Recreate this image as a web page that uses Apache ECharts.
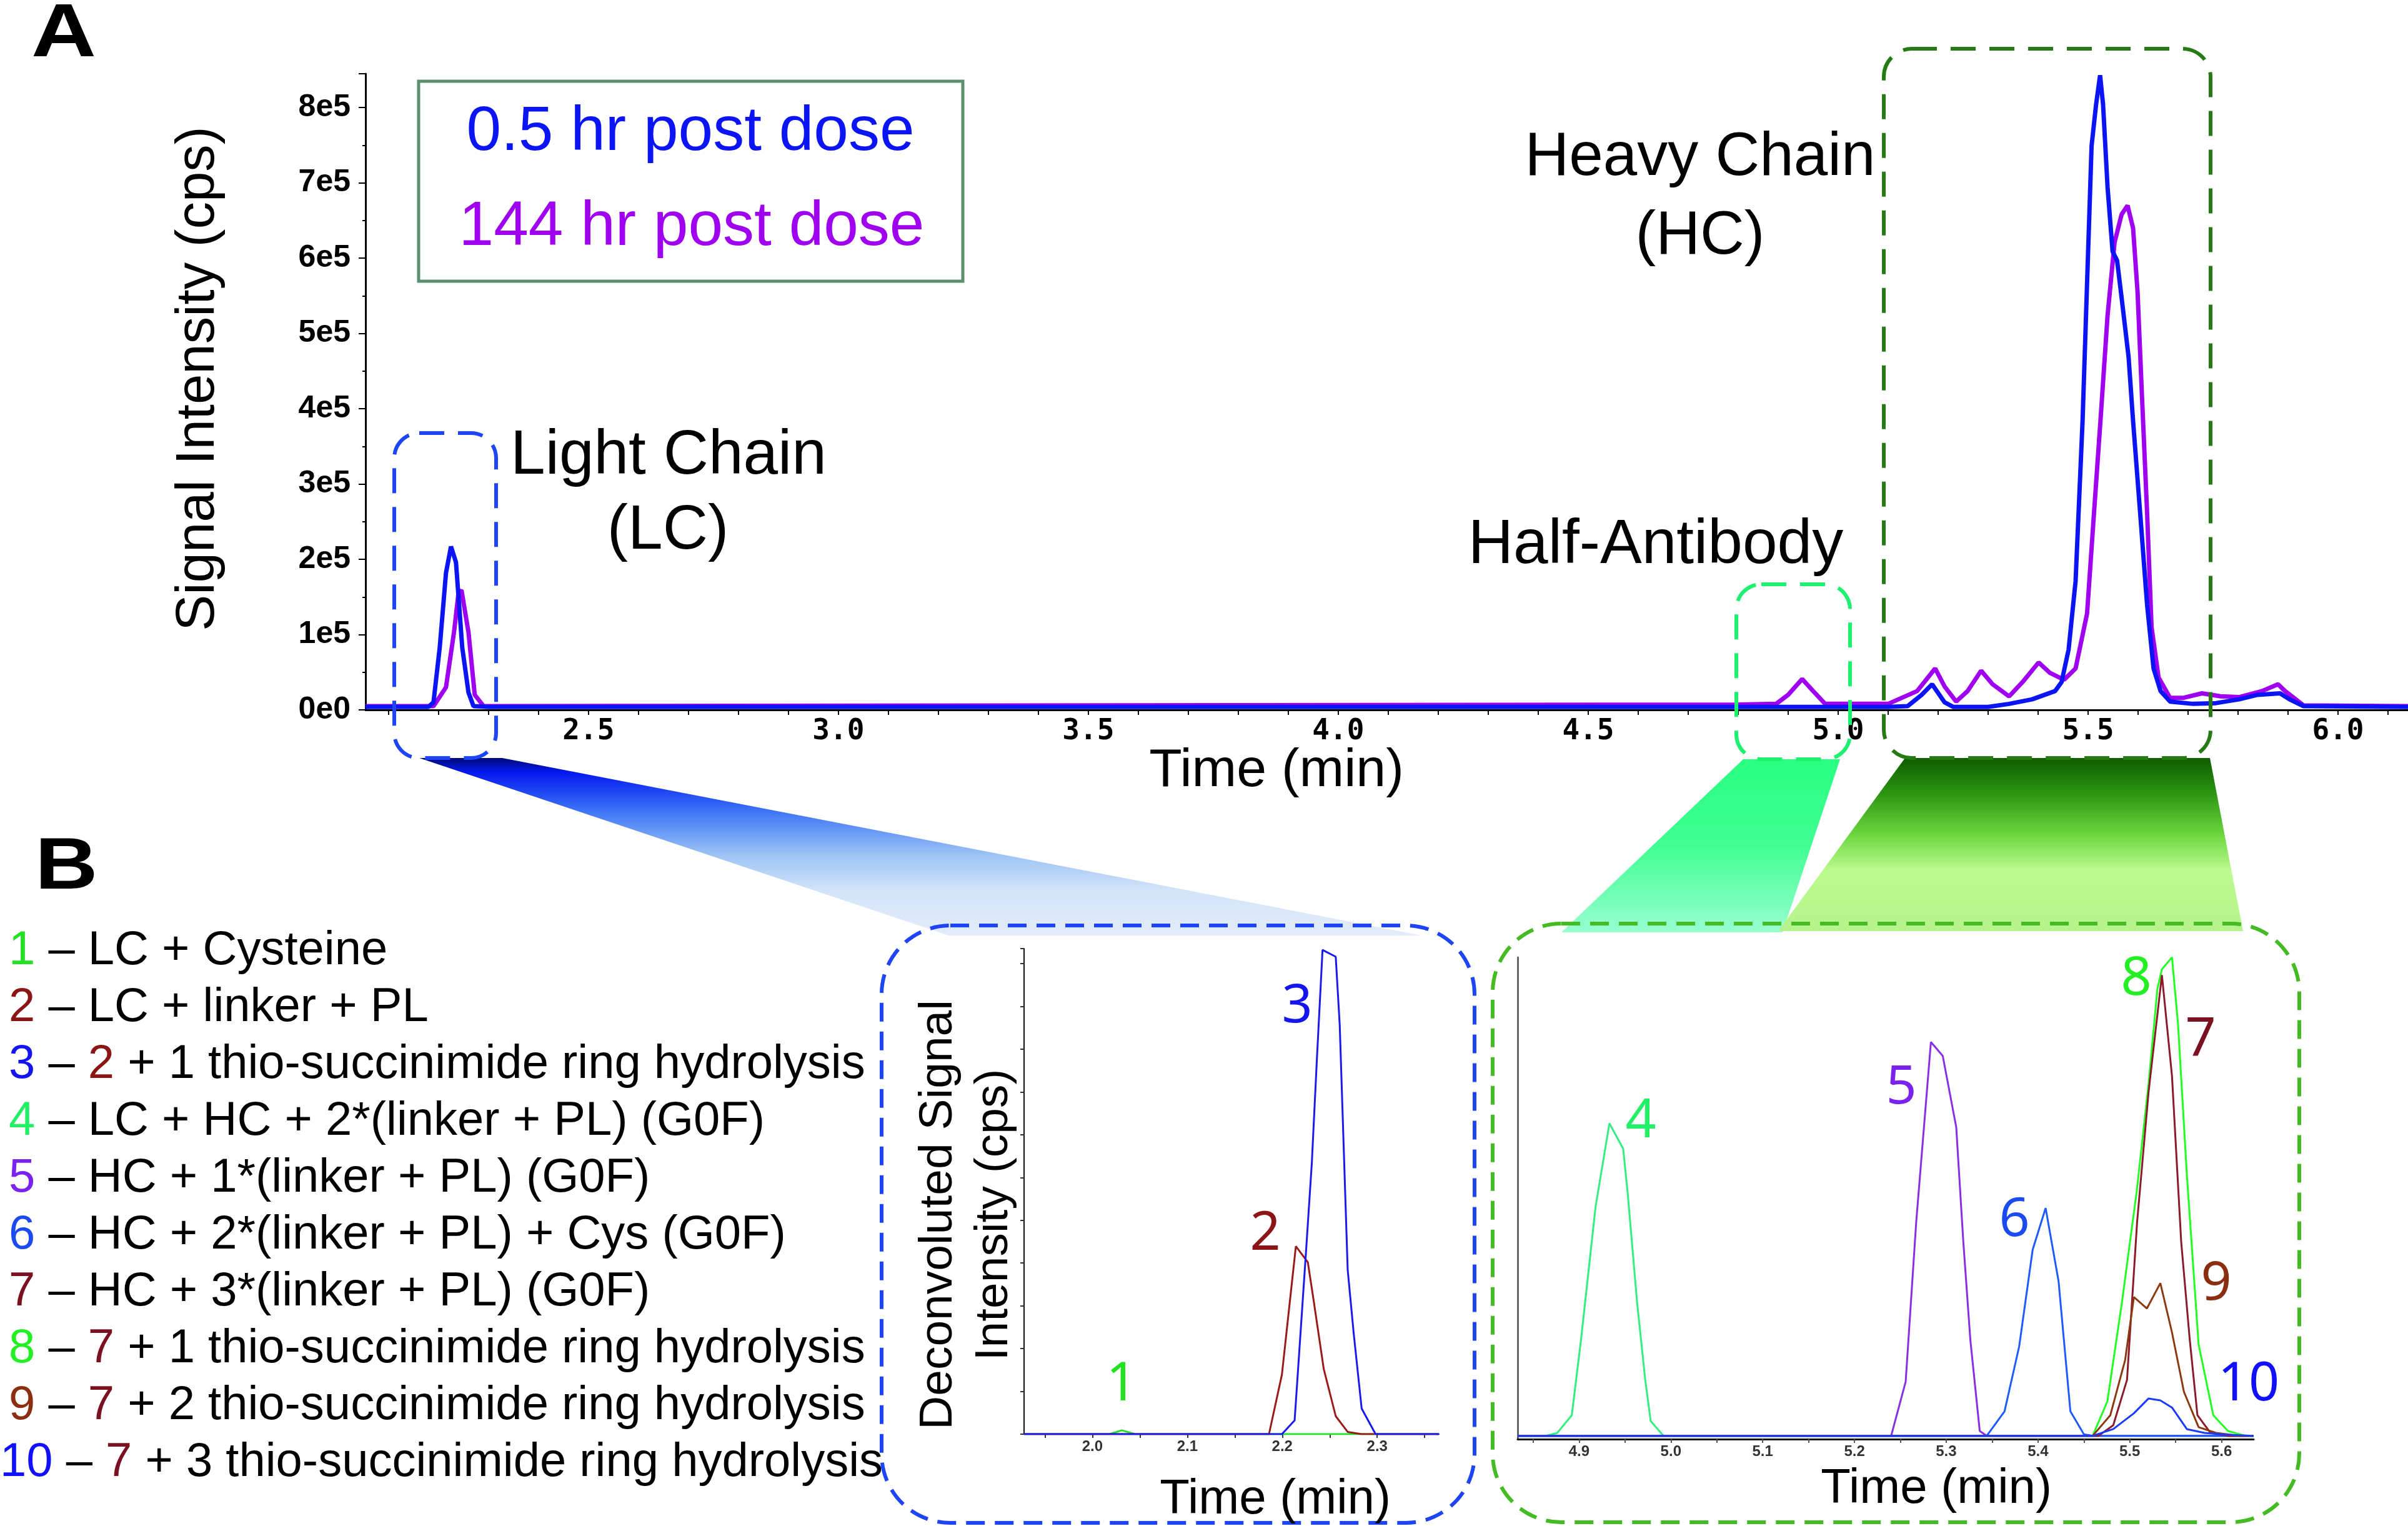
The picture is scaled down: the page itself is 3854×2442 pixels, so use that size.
<!DOCTYPE html>
<html><head><meta charset="utf-8">
<script src="https://cdn.jsdelivr.net/npm/echarts@6/dist/echarts.min.js"></script>
<style>html,body{margin:0;padding:0;background:#fff}#c{width:3854px;height:2442px}</style>
</head><body><div id="c"></div>
<script>
// ---------- Panel A data (time in min, signal in units of 1e5 cps) ----------
const mainTime05 = [2.054,2.18,2.19,2.2025,2.215,2.225,2.235,2.2475,2.26,2.27,2.30,5.10,5.139,5.167,5.188,5.213,5.23,5.30,5.342,5.388,5.434,5.447,5.461,5.475,5.489,5.498,5.507,5.516,5.524,5.530,5.539,5.549,5.558,5.567,5.581,5.590,5.604,5.618,5.631,5.645,5.664,5.710,5.756,5.802,5.839,5.884,5.903,5.931,6.14];
const mainSignal05 = [0.04,0.04,0.1,0.83,1.82,2.17,1.96,0.83,0.23,0.05,0.04,0.04,0.05,0.2,0.34,0.1,0.04,0.04,0.08,0.14,0.25,0.37,0.80,1.71,3.84,5.67,7.49,8.04,8.43,8.04,6.94,6.09,5.97,5.48,4.69,3.84,2.63,1.40,0.55,0.25,0.11,0.08,0.09,0.14,0.20,0.22,0.14,0.05,0.04];
const mainTime144 = [2.054,2.19,2.215,2.231,2.240,2.246,2.26,2.2725,2.29,4.80,4.876,4.90,4.928,4.95,4.974,5.10,5.158,5.194,5.213,5.236,5.259,5.286,5.309,5.342,5.369,5.401,5.424,5.452,5.475,5.498,5.512,5.526,5.539,5.553,5.567,5.579,5.590,5.599,5.608,5.618,5.627,5.641,5.664,5.691,5.728,5.765,5.802,5.848,5.880,5.894,5.931,6.14];
const mainSignal144 = [0.05,0.05,0.3,1.03,1.55,1.59,1.03,0.2,0.05,0.07,0.08,0.2,0.41,0.25,0.08,0.08,0.25,0.55,0.31,0.11,0.25,0.52,0.34,0.18,0.37,0.63,0.49,0.40,0.55,1.28,2.63,3.96,5.24,6.21,6.58,6.70,6.40,5.55,4.14,2.63,1.10,0.43,0.16,0.16,0.22,0.18,0.17,0.25,0.34,0.25,0.06,0.05];
const mainXLabels = [2.5,3.0,3.5,4.0,4.5,5.0,5.5,6.0];
const mainXTicks = [2.1,2.2,2.3,2.4,2.5,2.6,2.7,2.8,2.9,3.0,3.1,3.2,3.3,3.4,3.5,3.6,3.7,3.8,3.9,4.0,4.1,4.2,4.3,4.4,4.5,4.6,4.7,4.8,4.9,5.0,5.1,5.2,5.3,5.4,5.5,5.6,5.7,5.8,5.9,6.0,6.1];

// ---------- Panel B inset 1 (LC) ----------
const lcTime1 = [1.928,2.018,2.031,2.045,2.365];
const lcVal1  = [0,0,0.09,0,0];
const lcTime2 = [1.928,2.186,2.1996,2.2143,2.2269,2.2332,2.2437,2.2563,2.269,2.2836,2.365];
const lcVal2  = [0,0,1.39,4.39,4.02,3.10,1.52,0.42,0.05,0,0];
const lcTime3 = [1.928,2.1996,2.2130,2.2248,2.2311,2.2366,2.2424,2.2563,2.2605,2.2689,2.2752,2.2836,2.2983,2.365];
const lcVal3  = [0,0,0.32,4.20,6.33,8.83,11.32,11.16,9.57,3.84,2.36,0.60,0,0];
const lcXLabels = [2.0,2.1,2.2,2.3];
const lcXTicks = [1.95,2.0,2.05,2.1,2.15,2.2,2.25,2.3,2.35];

// ---------- Panel B inset 2 (HC) ----------
const hcTime4 = [4.833,4.8635,4.876,4.892,4.902,4.918,4.933,4.948,4.953,4.963,4.972,4.978,4.992,5.635];
const hcVal4  = [0,0,0.58,4.3,20.0,48.0,65.3,60.0,50.5,28.2,11.7,3.05,0,0];
const hcTime5 = [4.833,5.240,5.2558,5.2673,5.2833,5.2962,5.3109,5.3186,5.3263,5.3365,5.3442,5.635];
const hcVal5  = [0,0,11.3,44.7,82.3,79.4,64.5,40.6,20.0,1.0,0,0];
const hcTime6 = [4.833,5.3442,5.3635,5.3795,5.3942,5.4083,5.4224,5.4353,5.45,5.46,5.635];
const hcVal6  = [0,0,5.1,18.7,38.9,47.6,32.3,5.1,0.3,0,0];
const hcTime7 = [4.833,5.466,5.482,5.497,5.508,5.5205,5.535,5.546,5.556,5.5654,5.5737,5.588,5.607,5.635];
const hcVal7  = [0,0,2.2,11.7,44.7,71.9,96.3,75.2,40.6,20.0,4.3,0.6,0,0];
const hcTime8 = [4.833,5.4596,5.4756,5.4917,5.5077,5.5205,5.5301,5.535,5.546,5.5526,5.5622,5.575,5.591,5.607,5.626,5.635];
const hcVal8  = [0,0,7.2,28.2,51.3,73.6,93.4,97.5,100,86.0,54.6,19.1,4.3,1.0,0,0];
const hcTime9 = [4.833,5.4596,5.4788,5.4949,5.5045,5.5186,5.5333,5.546,5.559,5.575,5.594,5.62,5.635];
const hcVal9  = [0,0,4.3,15.8,29.0,26.6,31.9,21.6,9.2,1.8,0.6,0,0];
const hcTime10 = [4.833,5.4596,5.482,5.5045,5.5205,5.5333,5.546,5.5622,5.5814,5.607,5.635];
const hcVal10  = [0,0,1.4,4.7,7.8,7.4,5.9,1.4,0.6,0.2,0];
const hcXLabels = [4.9,5.0,5.1,5.2,5.3,5.4,5.5,5.6];
const hcXTicks = [4.85,4.9,4.95,5.0,5.05,5.1,5.15,5.2,5.25,5.3,5.35,5.4,5.45,5.5,5.55,5.6];

// ---------- Legend list text ----------
const legendNums = ['1','2','3','4','5','6','7','8','9','10'];
const legendRefs = ['','','2','','','','','7','7','7'];
const legendTexts = [' – LC + Cysteine',' – LC + linker + PL',' + 1 thio-succinimide ring hydrolysis',' – LC + HC + 2*(linker + PL) (G0F)',' – HC + 1*(linker + PL) (G0F)',' – HC + 2*(linker + PL) + Cys (G0F)',' – HC + 3*(linker + PL) (G0F)',' + 1 thio-succinimide ring hydrolysis',' + 2 thio-succinimide ring hydrolysis',' + 3 thio-succinimide ring hydrolysis'];

const C = {
  blue:'#0a14f5', purple:'#a000f0',
  c1:'#22e022', c2:'#8b1414', c3:'#1414ee', c4:'#22ee66', c5:'#7a22ee', c6:'#1a4af0',
  c7:'#7a1020', c8:'#22f022', c9:'#8b2e10', c10:'#1010ff'
};
const numColors = [C.c1,C.c2,C.c3,C.c4,C.c5,C.c6,C.c7,C.c8,C.c9,C.c10];
const FONT = 'Liberation Sans';
const zip = (t, v) => t.map((x, i) => [x, v[i]]);

const chart = echarts.init(document.getElementById('c'), null, {renderer:'canvas'});

function txt(x, y, text, size, color, extra) {
  extra = extra || {};
  const el = {
    type:'text', x:x, y:y, z:50,
    style: Object.assign({text:text, fontSize:size, fontFamily:FONT, fill:color||'#000',
      align:'center', verticalAlign:'middle', textAlign:'center', textVerticalAlign:'middle'}, extra.style||{})
  };
  Object.keys(extra).forEach(k => { if (k !== 'style') el[k] = extra[k]; });
  return el;
}
function dashBox(x, y, w, h, r, color, dash, lw) {
  return {type:'rect', z:40, shape:{x:x, y:y, width:w, height:h, r:r},
    style:{fill:null, stroke:color, lineWidth:lw||6, lineDash:dash}};
}
function wedge(points, stops) {
  return {type:'polygon', z:5, shape:{points:points},
    style:{fill:new echarts.graphic.LinearGradient(0,0,0,1, stops)}};
}

const graphics = [];
// wedges
graphics.push(wedge([[671,1213],[804,1213],[2275,1497],[1518,1497]],
  [{offset:0,color:'#000a78'},{offset:0.08,color:'#0418f0'},{offset:0.3,color:'#3d75f7'},{offset:0.55,color:'#9ec4f5'},{offset:0.75,color:'#d3e4f9'},{offset:1,color:'#e3ecfa'}]));
graphics.push(wedge([[2790,1215],[2945,1215],[2853,1492],[2499,1492]],
  [{offset:0,color:'#28ff80'},{offset:0.5,color:'#40ff92'},{offset:1,color:'#98ffcf'}]));
graphics.push(wedge([[3049,1213],[3537,1213],[3590,1490],[2846,1490]],
  [{offset:0,color:'#0f5c00'},{offset:0.2,color:'#2a9410'},{offset:0.45,color:'#6ed840'},{offset:0.65,color:'#bdfa90'},{offset:1,color:'#b4f48a'}]));
// dashed selection boxes (panel A)
graphics.push(dashBox(631,693,163,520,40,'#1d44f5',[40,22],6));
graphics.push(dashBox(2779,935,182,280,40,'#1ef070',[40,22],6));
graphics.push(dashBox(3015,78,523,1135,45,'#267a14',[40,22],6));
// inset dashed boxes
graphics.push(dashBox(1411,1481,949,956,110,'#1d44f5',[30,16],6));
graphics.push(dashBox(2389,1478,1291,958,110,'#44bb22',[30,16],6));
// legend box panel A
graphics.push({type:'rect', z:40, shape:{x:670,y:130,width:871,height:320}, style:{fill:null, stroke:'#5b8f6e', lineWidth:5}});
graphics.push(txt(1105,212,'0.5 hr post dose',100,C.blue));
graphics.push(txt(1107,364,'144 hr post dose',100,C.purple));
// panel letters
graphics.push(txt(50,57,'A',120,'#000',{scaleX:1.2, style:{fontWeight:'bold', align:'left', textAlign:'left'}}));
graphics.push(txt(56,1390,'B',116,'#000',{scaleX:1.2, style:{fontWeight:'bold', align:'left', textAlign:'left'}}));
// annotations panel A
graphics.push(txt(1070,730,'Light Chain',100));
graphics.push(txt(1069,850,'(LC)',100));
graphics.push(txt(2721,253,'Heavy Chain',98));
graphics.push(txt(2721,379,'(HC)',98));
graphics.push(txt(2650,873,'Half-Antibody',100));
// axis titles
graphics.push(txt(318,606,'Signal Intensity (cps)',87,'#000',{rotation:Math.PI/2}));
graphics.push(txt(2043,1234,'Time (min)',86));
graphics.push(txt(1502,1944,'Deconvoluted Signal',75,'#000',{rotation:Math.PI/2}));
graphics.push(txt(1591,1944,'Intensity (cps)',75,'#000',{rotation:Math.PI/2}));
graphics.push(txt(2041,2400,'Time (min)',78));
graphics.push(txt(3099,2383,'Time (min)',78));
// peak numbers in insets
const numFont = 'Noto Sans';
const peakLabels = [
  ['1',1795,2216,C.c1],['2',2025,1975,C.c2],['3',2076,1611,C.c3],
  ['4',2626,1795,C.c4],['5',3043,1741,C.c5],['6',3224,1953,C.c6],
  ['8',3419,1567,C.c8],['7',3522,1665,C.c7],['9',3547,2055,C.c9],['10',3599,2216,C.c10]
];
peakLabels.forEach(p => graphics.push(txt(p[1],p[2],p[0],86,p[3],{style:{fontFamily:numFont}})));
// legend list panel B
const richBase = {fontSize:76, fontFamily:FONT};
legendNums.forEach((n,i) => {
  const rich = {n:Object.assign({fill:numColors[i], color:numColors[i]}, richBase),
                r:Object.assign({fill:C.c7, color:C.c7}, richBase),
                r2:Object.assign({fill:C.c2, color:C.c2}, richBase),
                t:Object.assign({fill:'#000', color:'#000'}, richBase)};
  let s = '{n|' + n + '}';
  if (legendRefs[i]) {
    const key = legendRefs[i] === '2' ? 'r2' : 'r';
    s += '{t| – }{' + key + '|' + legendRefs[i] + '}{t|' + legendTexts[i] + '}';
  } else {
    s += '{t|' + legendTexts[i] + '}';
  }
  graphics.push({type:'text', x:(n==='10'?0:14), y:1522 + 91*i, z:50,
    style:{text:s, rich:rich, fontSize:76, fontFamily:FONT, fill:'#000',
      align:'left', verticalAlign:'middle', textAlign:'left', textVerticalAlign:'middle'}});
});

const lineSeries = (name, data, color, width, xi, yi, z) => ({
  type:'line', name:name, data:data, xAxisIndex:xi, yAxisIndex:yi, showSymbol:false, symbol:'none',
  smooth:false, z:z||3, animation:false, lineStyle:{color:color, width:width}, itemStyle:{color:color}
});

const option = {
  animation:false,
  backgroundColor:'#ffffff',
  grid:[
    {left:585, top:118, width:3269, height:1018, containLabel:false, outerBoundsMode:'none'},
    {left:1639, top:1518, width:664, height:777, containLabel:false, outerBoundsMode:'none'},
    {left:2429, top:1532, width:1178, height:771, containLabel:false, outerBoundsMode:'none'}
  ],
  xAxis:[
    {type:'value', gridIndex:0, min:2.054, max:6.14,
      axisLine:{show:true, onZero:false, lineStyle:{color:'#000', width:3}},
      axisTick:{show:true, customValues:mainXTicks, length:8, lineStyle:{color:'#000', width:2}},
      axisLabel:{show:true, customValues:mainXLabels, margin:12, formatter:v=>v.toFixed(1),
        fontFamily:'DejaVu Sans Mono', fontWeight:'bold', fontSize:46, color:'#000'},
      splitLine:{show:false}},
    {type:'value', gridIndex:1, min:1.928, max:2.365,
      axisLine:{show:true, onZero:false, lineStyle:{color:'#111', width:2}},
      axisTick:{show:true, customValues:lcXTicks, length:6, lineStyle:{color:'#333', width:2}},
      axisLabel:{show:true, customValues:lcXLabels, margin:8, formatter:v=>v.toFixed(1),
        fontFamily:FONT, fontWeight:'bold', fontSize:24, color:'#333'},
      splitLine:{show:false}},
    {type:'value', gridIndex:2, min:4.833, max:5.635,
      axisLine:{show:true, onZero:false, lineStyle:{color:'#111', width:3}},
      axisTick:{show:true, customValues:hcXTicks, length:6, lineStyle:{color:'#555', width:2}},
      axisLabel:{show:true, customValues:hcXLabels, margin:8, formatter:v=>v.toFixed(1),
        fontFamily:FONT, fontWeight:'bold', fontSize:24, color:'#333'},
      splitLine:{show:false}}
  ],
  yAxis:[
    {type:'value', gridIndex:0, min:0, max:8.45, interval:1,
      axisLine:{show:true, onZero:false, lineStyle:{color:'#000', width:3}},
      axisTick:{show:true, length:11, lineStyle:{color:'#000', width:2}},
      minorTick:{show:true, splitNumber:2, length:5, lineStyle:{color:'#000', width:2}},
      axisLabel:{show:true, margin:24, showMaxLabel:false, formatter:v=>v===0?'0e0':(Number.isInteger(v)?(v+'e5'):''),
        fontFamily:FONT, fontWeight:'bold', fontSize:50, color:'#000'},
      splitLine:{show:false}, minorSplitLine:{show:false}},
    {type:'value', gridIndex:1, min:0, max:11.35, interval:1,
      axisLine:{show:true, onZero:false, lineStyle:{color:'#111', width:2}},
      axisTick:{show:true, length:6, lineStyle:{color:'#333', width:2}},
      axisLabel:{show:false}, splitLine:{show:false}},
    {type:'value', gridIndex:2, min:-0.7, max:100,
      axisLine:{show:true, onZero:false, lineStyle:{color:'#666', width:3}},
      axisTick:{show:false}, axisLabel:{show:false}, splitLine:{show:false}}
  ],
  series:[
    lineSeries('144 hr post dose', zip(mainTime144, mainSignal144), C.purple, 7, 0, 0, 3),
    lineSeries('0.5 hr post dose', zip(mainTime05, mainSignal05), C.blue, 7, 0, 0, 4),
    lineSeries('1', zip(lcTime1, lcVal1), C.c1, 3, 1, 1, 3),
    lineSeries('2', zip(lcTime2, lcVal2), '#9a1a1a', 3, 1, 1, 3),
    lineSeries('3', zip(lcTime3, lcVal3), '#1a1aee', 3, 1, 1, 4),
    lineSeries('4', zip(hcTime4, hcVal4), '#33ee80', 3, 2, 2, 3),
    lineSeries('5', zip(hcTime5, hcVal5), '#8a2ee6', 3, 2, 2, 3),
    lineSeries('6', zip(hcTime6, hcVal6), '#1e5aff', 3, 2, 2, 3),
    lineSeries('8', zip(hcTime8, hcVal8), '#22ff22', 3, 2, 2, 3),
    lineSeries('7', zip(hcTime7, hcVal7), '#8b1a2a', 3, 2, 2, 4),
    lineSeries('9', zip(hcTime9, hcVal9), '#8b3a10', 3, 2, 2, 4),
    lineSeries('10', zip(hcTime10, hcVal10), '#1a3aff', 3, 2, 2, 4)
  ],
  graphic:{elements:graphics}
};
chart.setOption(option);
</script></body></html>
